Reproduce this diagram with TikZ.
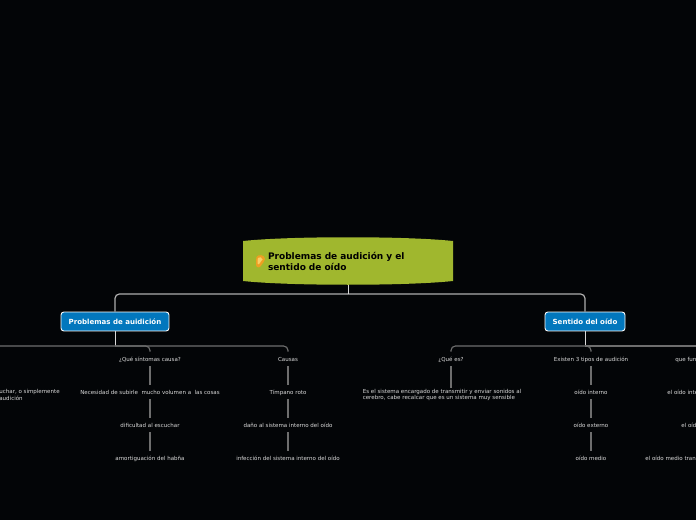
\documentclass[tikz,border=0pt]{standalone}
\usepackage{fontspec}
\setmainfont{DejaVu Sans}
\definecolor{bgdark}{HTML}{030507}
\definecolor{rootgreen}{HTML}{A0B72E}
\definecolor{branchblue}{HTML}{0277BD}
\definecolor{leaftext}{HTML}{DADADA}
\definecolor{linegray}{HTML}{6E6E6E}
\definecolor{eargold}{HTML}{EE9F22}
\definecolor{earlight}{HTML}{F9CF66}

\begin{document}
\begin{tikzpicture}[
        x=0.02cm, y=-0.02cm,
        rootnode/.style={
        inner sep=0pt, minimum width=4.2cm, minimum height=0.96cm,
        text width=3.2cm, font=\bfseries\fontsize{5.13pt}{6.3pt}\selectfont,
        text=black, align=left},
        branch/.style={
        rectangle, rounded corners=1.6pt, draw=white, line width=0.5pt,
        fill=branchblue, text=white, inner sep=0pt,
        minimum height=0.38cm, font=\bfseries\fontsize{4pt}{5pt}\selectfont},
        leaf/.style={
        inner sep=0pt, minimum height=0.28cm, text=leaftext,
        text height=3.2pt, text depth=0.5pt,
        font=\fontsize{3.14pt}{3.7pt}\selectfont},
        para/.style={
        leaf, text height=, text depth=},
        stub/.style={draw=white!85!black, line width=0.45pt},
        trunk/.style={draw=white!68!black, line width=0.7pt, rounded corners=2.5pt},
        twig/.style={draw=linegray, line width=0.65pt, rounded corners=2.5pt},
        ]

        \useasboundingbox (0,0) rectangle (696,520);
        \fill[bgdark] (0,0) rectangle (696,520);
        \clip (0,0) rectangle (696,520);

        % central topic
        \fill[rootgreen] (243,241) .. controls (290,236) and (406,236) .. (453,241)
            -- (453,281) .. controls (406,286) and (290,286) .. (243,281) -- cycle;
        \fill[eargold] (256.5,257) .. controls (258,254) and (265,254.5) .. (265,259)
            .. controls (265,262) and (262.5,262) .. (261.5,265)
            .. controls (260,268.5) and (256,268) .. (256,264.5)
            .. controls (256,261) and (256,259) .. (256.5,257) -- cycle;
        \fill[earlight] (258,258) .. controls (259,256.5) and (262.5,257) .. (262.5,259.5)
            .. controls (262.5,261) and (260,261) .. (259.5,263.5)
            .. controls (258.5,265) and (257.5,264.5) .. (257.5,263)
            .. controls (257.5,261) and (257.5,259.5) .. (258,258) -- cycle;
        \node (root) [rootnode] at (348,261) {Problemas de audición y el\\sentido de oído};

        \node (prob) [branch, minimum width=2.16cm] at (115,321.5) {Problemas de auidición};
        \node (sent) [branch, minimum width=1.6cm] at (585,321.5) {Sentido del oído};

        \coordinate (hub) at (348,294);
        \coordinate (hubl) at (115,346);
        \coordinate (hubr) at (585,346);
        \coordinate (offl) at (-5,346);
        \coordinate (offr) at (705,346);

        % left branch
        \node (sint) [leaf] at (150,359) {¿Qué síntomas causa?};
        \node (nec) [leaf] at (150,392) {Necesidad de subirle~ mucho volumen a~ las cosas};
        \node (dif) [leaf] at (150,425) {dificultad al escuchar};
        \node (amo) [leaf] at (150,458) {amortiguación del habña};
        \node (esc) [para, anchor=west, align=left] at (-1,395) {uchar, o simplemente\\audición};

        \node (cau) [leaf] at (288,359) {Causas};
        \node (tim) [leaf] at (288,392) {Tímpano roto};
        \node (dan) [leaf] at (288,425) {daño al sistema interno del oído};
        \node (inf) [leaf] at (288,458) {infección del sistema interno del oído};

        % right branch
        \node (que) [leaf] at (451,359) {¿Qué es?};
        \node (sis) [para, align=left] at (442,395) {Es el sistema encargado de transmitir y enviar sonidos al\\cerebro, cabe recalcar que es un sistema muy sensible};

        \node (tip) [leaf] at (591,359) {Existen 3 tipos de audición};
        \node (int) [leaf] at (591,392) {oído interno};
        \node (ext) [leaf] at (591,425) {oído externo};
        \node (med) [leaf] at (591,458) {oído medio};

        \node (fun) [leaf, anchor=west] at (675,359) {que fun};
        \node (fint) [leaf, anchor=west] at (667,392) {el oído inte};
        \node (fext) [leaf, anchor=west] at (681,425) {el oíd};
        \node (fmed) [leaf, anchor=west] at (645,458) {el oído medio tran};

        \draw [trunk] (hub) -| (prob.north);
        \draw [trunk] (hub) -| (sent.north);
        \draw [stub] (root.south -| hub) -- (hub);
        \draw [stub] (prob.south) -- (hubl);
        \draw [stub] (sent.south) -- (hubr);

        \draw [twig] (offl) -- (hubl) -| (sint.north);
        \draw [twig] (hubl) -| (cau.north);
        \draw [twig] (hubr) -| (que.north);
        \draw [twig] (hubr) -| (tip.north);
        \draw [twig] (hubr) -- (offr);

        \draw [twig] (sint) -- (nec) -- (dif) -- (amo);
        \draw [twig] (cau) -- (tim) -- (dan) -- (inf);
        \draw [twig] (tip) -- (int) -- (ext) -- (med);
        \draw [twig] (que.south) -- (que.south |- sis.north);
    \end{tikzpicture}
\end{document}
